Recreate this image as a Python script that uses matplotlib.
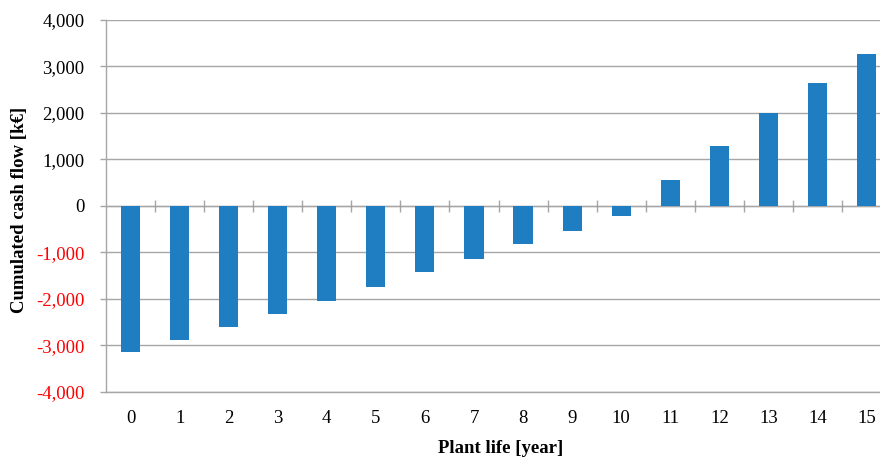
import numpy as np
import matplotlib
matplotlib.use("Agg")
import matplotlib.pyplot as plt
from matplotlib.ticker import FuncFormatter

# cumulated cash flow per year of plant life, in k€
years = list(range(16))
cash_flow = [-3140, -2880, -2610, -2330, -2040, -1750, -1430, -1145,
             -820, -530, -215, 550, 1290, 1990, 2640, 3260]
y_ticks = [-4000, -3000, -2000, -1000, 0, 1000, 2000, 3000, 4000]

plt.rcParams['font.family'] = ['Liberation Serif', 'DejaVu Serif']
grid_col = '#a6a6a6'
bar_col = '#1f7ec1'

fig = plt.figure(figsize=(8.8, 4.61), dpi=100)
ax = fig.add_axes([0.1205, 0.1497, 0.892, 0.807])

ax.bar(years, cash_flow, width=0.39, color=bar_col, zorder=3)

ax.set_xlim(-0.5, 15.5)
ax.set_ylim(-4000, 4000)
ax.set_yticks(y_ticks)
ax.yaxis.set_major_formatter(FuncFormatter(lambda v, p: '{:,.0f}'.format(v)))
ax.set_xticks(years)
ax.set_xticklabels([str(y) for y in years])

ax.grid(axis='y', color=grid_col, linewidth=1.0, zorder=0)
for s in ['top', 'right']:
    ax.spines[s].set_visible(False)
for s in ['left', 'bottom']:
    ax.spines[s].set_color(grid_col)
    ax.spines[s].set_linewidth(1.0)

ax.tick_params(axis='y', direction='out', length=4.5, width=1.0, color=grid_col,
               pad=11, labelsize=13.5)
ax.tick_params(axis='x', length=0, pad=13, labelsize=13.5)
for lab, v in zip(ax.get_yticklabels(), y_ticks):
    lab.set_color('red' if v < 0 else 'black')

# category axis drawn along the zero line, with crossing ticks between years
zero_ax = ax.secondary_xaxis(0.5)
zero_ax.set_xticks(np.arange(0.5, 15.5, 1.0))
zero_ax.tick_params(direction='inout', length=8.5, width=1.0, color=grid_col,
                    labelbottom=False, labeltop=False)
zero_ax.spines['bottom'].set_color(grid_col)
zero_ax.spines['bottom'].set_linewidth(1.0)

ax.set_ylabel('Cumulated cash flow [k€]', fontsize=13.5, fontweight='bold')
ax.yaxis.set_label_coords(-0.10, 0.49)
ax.set_xlabel('Plant life [year]', fontsize=13.5, fontweight='bold')
ax.xaxis.set_label_coords(0.503, -0.128)

fig.savefig('out.png', dpi=100)
